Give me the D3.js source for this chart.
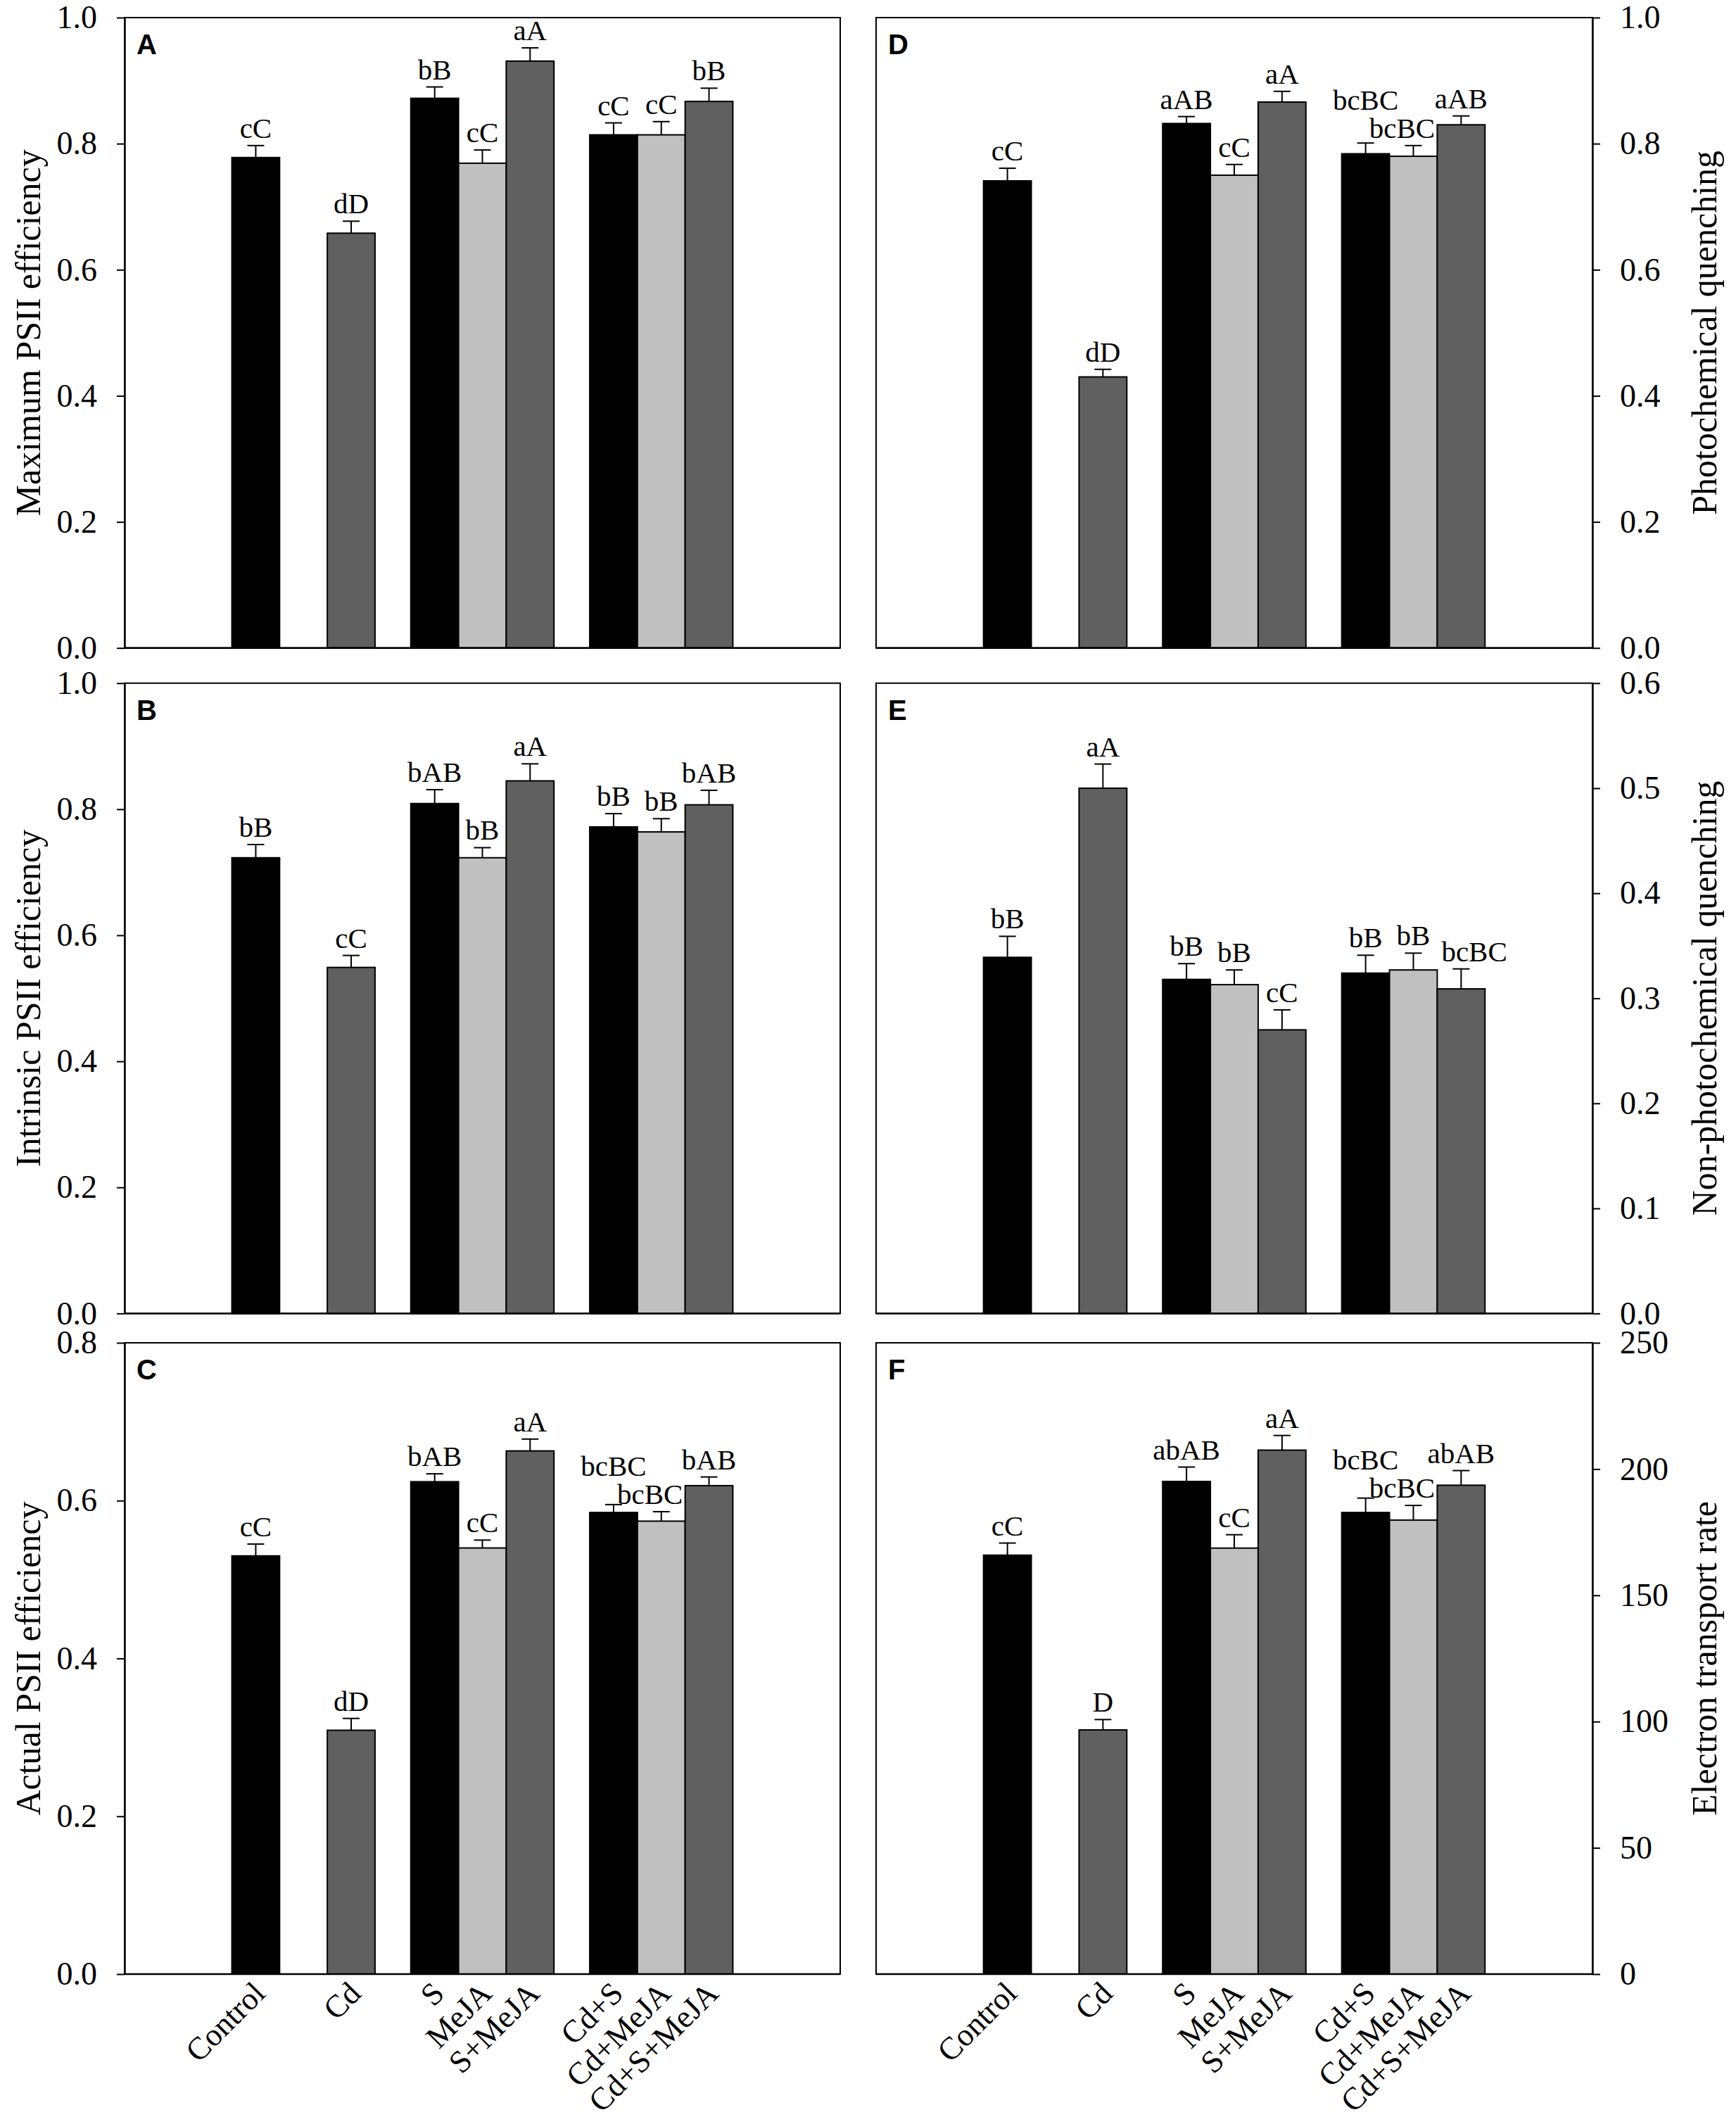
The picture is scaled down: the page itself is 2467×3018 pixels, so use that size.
<!DOCTYPE html>
<html>
<head>
<meta charset="utf-8">
<script src="https://cdn.jsdelivr.net/npm/d3@7"></script>
<style>
  html, body { margin: 0; padding: 0; background: #fff; }
  svg { display: block; }
</style>
</head>
<body>
<svg id="chart" width="2467" height="3018"></svg>
<script>
// ---------------- DATA ----------------
const categories = ["Control", "Cd", "S", "MeJA", "S+MeJA", "Cd+S", "Cd+MeJA", "Cd+S+MeJA"];
const groups = [["Control"], ["Cd"], ["S", "MeJA", "S+MeJA"], ["Cd+S", "Cd+MeJA", "Cd+S+MeJA"]];

const maxPSII      = [0.778, 0.658, 0.872, 0.769, 0.931, 0.814, 0.814, 0.867];
const maxPSIIErr   = [0.019, 0.019, 0.018, 0.021, 0.021, 0.019, 0.021, 0.021];
const maxPSIILbl   = ["cC", "dD", "bB", "cC", "aA", "cC", "cC", "bB"];

const intPSII      = [0.723, 0.549, 0.809, 0.723, 0.845, 0.772, 0.764, 0.807];
const intPSIIErr   = [0.021, 0.019, 0.022, 0.016, 0.027, 0.021, 0.021, 0.023];
const intPSIILbl   = ["bB", "cC", "bAB", "bB", "aA", "bB", "bB", "bAB"];

const actPSII      = [0.530, 0.309, 0.624, 0.540, 0.663, 0.585, 0.574, 0.619];
const actPSIIErr   = [0.015, 0.015, 0.010, 0.010, 0.015, 0.010, 0.012, 0.011];
const actPSIILbl   = ["cC", "dD", "bAB", "cC", "aA", "bcBC", "bcBC", "bAB"];

const photoQ       = [0.741, 0.430, 0.832, 0.750, 0.866, 0.784, 0.780, 0.830];
const photoQErr    = [0.020, 0.012, 0.011, 0.017, 0.017, 0.017, 0.017, 0.014];
const photoQLbl    = ["cC", "dD", "aAB", "cC", "aA", "bcBC", "bcBC", "aAB"];

const nonPhotoQ    = [0.339, 0.500, 0.318, 0.313, 0.270, 0.324, 0.327, 0.309];
const nonPhotoQErr = [0.020, 0.023, 0.015, 0.014, 0.019, 0.017, 0.016, 0.019];
const nonPhotoQLbl = ["bB", "aA", "bB", "bB", "cC", "bB", "bB", "bcBC"];

const etr          = [165.9, 96.7, 195.1, 168.7, 207.5, 182.8, 179.8, 193.6];
const etrErr       = [4.8, 4.1, 5.7, 5.3, 5.8, 5.7, 5.8, 5.8];
const etrLbl       = ["cC", "D", "abAB", "cC", "aA", "bcBC", "bcBC", "abAB"];

const ticksUnit    = [0, 0.2, 0.4, 0.6, 0.8, 1.0];
const ticksC       = [0, 0.2, 0.4, 0.6, 0.8];
const ticksE       = [0, 0.1, 0.2, 0.3, 0.4, 0.5, 0.6];
const ticksF       = [0, 50, 100, 150, 200, 250];

// ---------------- STYLE / LAYOUT ----------------
const barFill = {
  "Control": "#000000", "Cd": "#606060",
  "S": "#000000", "MeJA": "#c0c0c0", "S+MeJA": "#606060",
  "Cd+S": "#000000", "Cd+MeJA": "#c0c0c0", "Cd+S+MeJA": "#606060"
};
const serif = "'Liberation Serif', 'Times New Roman', serif";
const sans = "'Liberation Sans', Arial, sans-serif";

const colX = [[177, 1194], [1245, 2263]];
const rowY = [[25, 920.7], [970.7, 1866.3], [1908, 2805]];

// slot layout in bar-width units
const padUnits = 2.25, groupGap = [1, 0.75, 0.75];
const slotCenter = {};
(function () {
  let pos = padUnits;
  groups.forEach((g, gi) => {
    g.forEach(c => { slotCenter[c] = pos + 0.5; pos += 1; });
    if (gi < groupGap.length) pos += groupGap[gi];
  });
})();
const totalUnits = 15;

const panels = [
  { letter: "A", col: 0, row: 0, vals: maxPSII, errs: maxPSIIErr, lbls: maxPSIILbl, dom: [0, 1], ticks: ticksUnit, fmt: ".1f", title: "Maximum PSII efficiency" },
  { letter: "B", col: 0, row: 1, vals: intPSII, errs: intPSIIErr, lbls: intPSIILbl, dom: [0, 1], ticks: ticksUnit, fmt: ".1f", title: "Intrinsic PSII efficiency" },
  { letter: "C", col: 0, row: 2, vals: actPSII, errs: actPSIIErr, lbls: actPSIILbl, dom: [0, 0.8], ticks: ticksC, fmt: ".1f", title: "Actual PSII efficiency" },
  { letter: "D", col: 1, row: 0, vals: photoQ, errs: photoQErr, lbls: photoQLbl, dom: [0, 1], ticks: ticksUnit, fmt: ".1f", title: "Photochemical quenching" },
  { letter: "E", col: 1, row: 1, vals: nonPhotoQ, errs: nonPhotoQErr, lbls: nonPhotoQLbl, dom: [0, 0.6], ticks: ticksE, fmt: ".1f", title: "Non-photochemical quenching" },
  { letter: "F", col: 1, row: 2, vals: etr, errs: etrErr, lbls: etrLbl, dom: [0, 250], ticks: ticksF, fmt: "d", title: "Electron transport rate" }
];

const svg = d3.select("#chart");
svg.append("rect").attr("width", 2467).attr("height", 3018).attr("fill", "#fff");

panels.forEach(p => {
  const [x0, x1] = colX[p.col];
  const [y0, y1] = rowY[p.row];
  const x = d3.scaleLinear().domain([0, totalUnits]).range([x0, x1]);
  const y = d3.scaleLinear().domain(p.dom).range([y1, y0]);
  const bw = x(1) - x(0);
  const g = svg.append("g");

  const data = categories.map((c, i) => ({ c, v: p.vals[i], e: p.errs[i], l: p.lbls[i] }));

  // bars
  g.selectAll("rect.bar").data(data).join("rect")
    .attr("class", "bar")
    .attr("x", d => x(slotCenter[d.c]) - bw / 2)
    .attr("width", bw)
    .attr("y", d => y(d.v))
    .attr("height", d => y(p.dom[0]) - y(d.v))
    .attr("fill", d => barFill[d.c])
    .attr("stroke", "#000").attr("stroke-width", 2);

  // error bars (upper only)
  const capHalf = 12;
  g.selectAll("line.ev").data(data).join("line")
    .attr("class", "ev")
    .attr("x1", d => x(slotCenter[d.c])).attr("x2", d => x(slotCenter[d.c]))
    .attr("y1", d => y(d.v)).attr("y2", d => y(d.v + d.e))
    .attr("stroke", "#000").attr("stroke-width", 2);
  g.selectAll("line.ec").data(data).join("line")
    .attr("class", "ec")
    .attr("x1", d => x(slotCenter[d.c]) - capHalf).attr("x2", d => x(slotCenter[d.c]) + capHalf)
    .attr("y1", d => y(d.v + d.e)).attr("y2", d => y(d.v + d.e))
    .attr("stroke", "#000").attr("stroke-width", 2);

  // significance letters
  const lblSize = 41;
  const capH = lblSize * 0.68;
  const texts = g.selectAll("text.sig").data(data).join("text")
    .attr("class", "sig")
    .attr("x", d => x(slotCenter[d.c]))
    .attr("y", d => y(d.v + d.e) - 11)
    .attr("text-anchor", "middle")
    .style("font-family", serif).style("font-size", lblSize + "px")
    .text(d => d.l);
  const nodes = texts.nodes();
  const box = n => {
    const b = n.getBBox(), yb = +n.getAttribute("y");
    return { l: b.x, r: b.x + b.width, t: yb - capH, b: yb };
  };
  const ovl = (a, b) => ({
    h: Math.min(a.r, b.r) - Math.max(a.l, b.l),
    v: Math.min(a.b, b.b) - Math.max(a.t, b.t)
  });
  // pass 1: nearly touching labels at the same height -> push the right one aside
  for (let i = 0; i < nodes.length - 1; i++) {
    const o = ovl(box(nodes[i]), box(nodes[i + 1]));
    if (o.h > -16 && o.h <= 6 && o.v > 0) {
      nodes[i + 1].setAttribute("x", +nodes[i + 1].getAttribute("x") + o.h + 16);
    }
  }
  // pass 2: colliding labels -> raise the left one above its right neighbour
  for (let i = nodes.length - 2; i >= 0; i--) {
    const a = box(nodes[i]), b = box(nodes[i + 1]);
    const o = ovl(a, b);
    if (o.h > 6 && o.v > -4) nodes[i].setAttribute("y", b.t - 12);
  }
  // pass 3: label tucked under a higher right neighbour -> nudge it left
  for (let i = 0; i < nodes.length - 1; i++) {
    const a = box(nodes[i]), b = box(nodes[i + 1]);
    const o = ovl(a, b);
    if (o.h > 6 && o.v <= -4 && b.b < a.t) {
      nodes[i].setAttribute("x", +nodes[i].getAttribute("x") - Math.min(o.h, 16));
    }
  }

  // frame
  g.append("rect")
    .attr("x", x0).attr("y", y0).attr("width", x1 - x0).attr("height", y1 - y0)
    .attr("fill", "none").attr("stroke", "#000").attr("stroke-width", 2);
  g.append("line").attr("x1", x0).attr("x2", x1).attr("y1", y1).attr("y2", y1)
    .attr("stroke", "#000").attr("stroke-width", 2.5);

  // y axis
  const fmt = d3.format(p.fmt);
  const axis = (p.col === 0 ? d3.axisLeft(y) : d3.axisRight(y))
    .tickValues(p.ticks).tickFormat(fmt).tickSize(11).tickSizeOuter(0).tickPadding(28);
  const ag = g.append("g")
    .attr("transform", `translate(${p.col === 0 ? x0 : x1},0)`)
    .call(axis);
  ag.attr("font-family", null).attr("font-size", null);
  ag.select(".domain").attr("stroke", "#000").attr("stroke-width", 2.5);
  ag.selectAll(".tick line").attr("stroke", "#000").attr("stroke-width", 2);
  ag.selectAll(".tick text")
    .style("font-family", serif).style("font-size", "46px").attr("fill", "#000");

  // axis title
  const titleX = p.col === 0 ? 57 : 2439;
  g.append("text")
    .attr("transform", `translate(${titleX},${(y0 + y1) / 2}) rotate(-90)`)
    .attr("text-anchor", "middle")
    .style("font-family", serif).style("font-size", "50px")
    .text(p.title);

  // panel letter
  g.append("text")
    .attr("x", x0 + 17).attr("y", y0 + 52)
    .style("font-family", sans).style("font-weight", "bold").style("font-size", "40px")
    .text(p.letter);

  // category labels on bottom row
  if (p.row === 2) {
    g.selectAll("text.cat").data(categories).join("text")
      .attr("class", "cat")
      .attr("transform", c => `translate(${x(slotCenter[c]) + 16},${y1 + 30}) rotate(-45)`)
      .attr("text-anchor", "end")
      .style("font-family", serif).style("font-size", "45px")
      .text(c => c);
  }
});
</script>
</body>
</html>
